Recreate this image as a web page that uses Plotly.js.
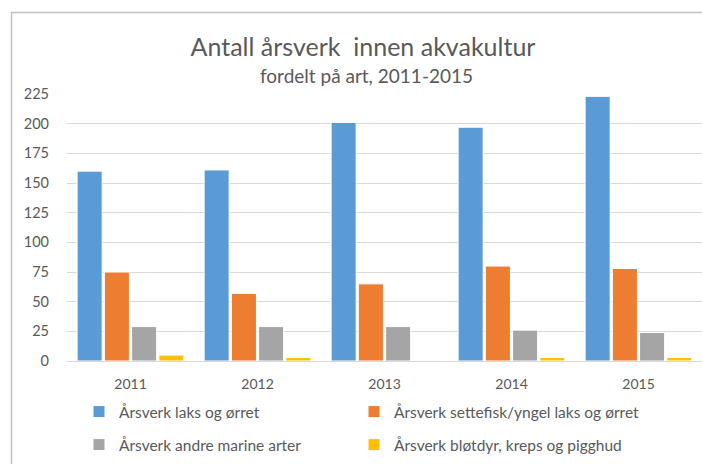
<!DOCTYPE html>
<html>
<head>
<meta charset="utf-8">
<script src="https://cdn.plot.ly/plotly-3.0.1.min.js"></script>
<style>
  html, body { margin: 0; padding: 0; background: #fff; }
  #chart { width: 702px; height: 464px; }
</style>
</head>
<body>
<div id="chart"></div>
<script>
const years = ['2011', '2012', '2013', '2014', '2015'];
const laksOgOrret = [160, 161, 201, 197, 223];
const settefisk = [75, 57, 65, 80, 78];
const andreMarine = [29, 29, 29, 26, 24];
const blotdyr = [5, 3, 0.5, 3, 3];

const seriesNames = [
  'Årsverk laks og ørret',
  'Årsverk settefisk/yngel laks og ørret',
  'Årsverk andre marine arter',
  'Årsverk bløtdyr, kreps og pigghud'
];
const seriesColors = ['#5b9bd5', '#ed7d31', '#a5a5a5', '#ffc000'];
const seriesValues = [laksOgOrret, settefisk, andreMarine, blotdyr];
const legendIds = ['legend', 'legend2', 'legend3', 'legend4'];

const fontFamily = 'Lato, "Open Sans", sans-serif';
const textColor = '#595959';

const traces = seriesValues.map((vals, i) => ({
  type: 'bar',
  name: seriesNames[i],
  x: years,
  y: vals,
  legend: legendIds[i],
  showlegend: true,
  marker: { color: seriesColors[i], line: { color: '#ffffff', width: 1 } },
  hoverinfo: 'x+y+name'
}));

const legendCommon = {
  orientation: 'h',
  xref: 'container',
  yref: 'container',
  xanchor: 'left',
  yanchor: 'middle',
  font: { family: fontFamily, size: 15.5, color: textColor },
  bgcolor: 'rgba(0,0,0,0)',
  itemclick: false,
  itemdoubleclick: false
};
const col1 = 79 / 702, col2 = 354 / 702;
const row1 = 1 - 412 / 464, row2 = 1 - 445 / 464;

const layout = {
  width: 702,
  height: 464,
  showlegend: true,
  margin: { l: 67, r: 0, t: 94, b: 103 },
  paper_bgcolor: '#ffffff',
  plot_bgcolor: '#ffffff',
  font: { family: fontFamily, color: textColor },
  title: {
    text: 'Antall årsverk  innen akvakultur',
    font: { family: fontFamily, size: 25, color: textColor },
    xref: 'container',
    yref: 'container',
    x: 363 / 702,
    xanchor: 'center',
    y: 1 - 47 / 464,
    yanchor: 'middle'
  },
  annotations: [{
    text: 'fordelt på art, 2011-2015',
    xref: 'paper',
    yref: 'paper',
    x: (366 - 67) / 635,
    y: (361 - 75) / 267,
    xanchor: 'center',
    yanchor: 'middle',
    showarrow: false,
    font: { family: fontFamily, size: 19, color: textColor }
  }],
  barmode: 'group',
  bargap: 0.142,
  bargroupgap: 0.08,
  xaxis: {
    type: 'category',
    showgrid: false,
    showline: true,
    linecolor: '#d9d9d9',
    linewidth: 1,
    ticks: '',
    ticklabelstandoff: 10,
    tickfont: { family: fontFamily, size: 14, color: textColor },
    fixedrange: true
  },
  yaxis: {
    range: [0, 225],
    dtick: 25,
    tick0: 0,
    showgrid: true,
    gridcolor: '#d9d9d9',
    gridwidth: 1,
    zeroline: false,
    showline: false,
    ticks: '',
    ticklabelstandoff: 17,
    tickfont: { family: fontFamily, size: 14.5, color: textColor },
    fixedrange: true
  },
  legend: Object.assign({}, legendCommon, { x: col1, y: row1 }),
  legend2: Object.assign({}, legendCommon, { x: col2, y: row1 }),
  legend3: Object.assign({}, legendCommon, { x: col1, y: row2 }),
  legend4: Object.assign({}, legendCommon, { x: col2, y: row2 }),
  shapes: [{
    type: 'rect',
    xref: 'paper',
    yref: 'paper',
    x0: (11.5 - 67) / 635,
    x1: 1.2,
    y0: -0.5,
    y1: (361 - 12.5) / 267,
    line: { color: '#bfbfbf', width: 1.5 },
    fillcolor: 'rgba(0,0,0,0)',
    layer: 'below'
  }]
};

Plotly.newPlot('chart', traces, layout, { displayModeBar: false, staticPlot: false });
</script>
</body>
</html>
